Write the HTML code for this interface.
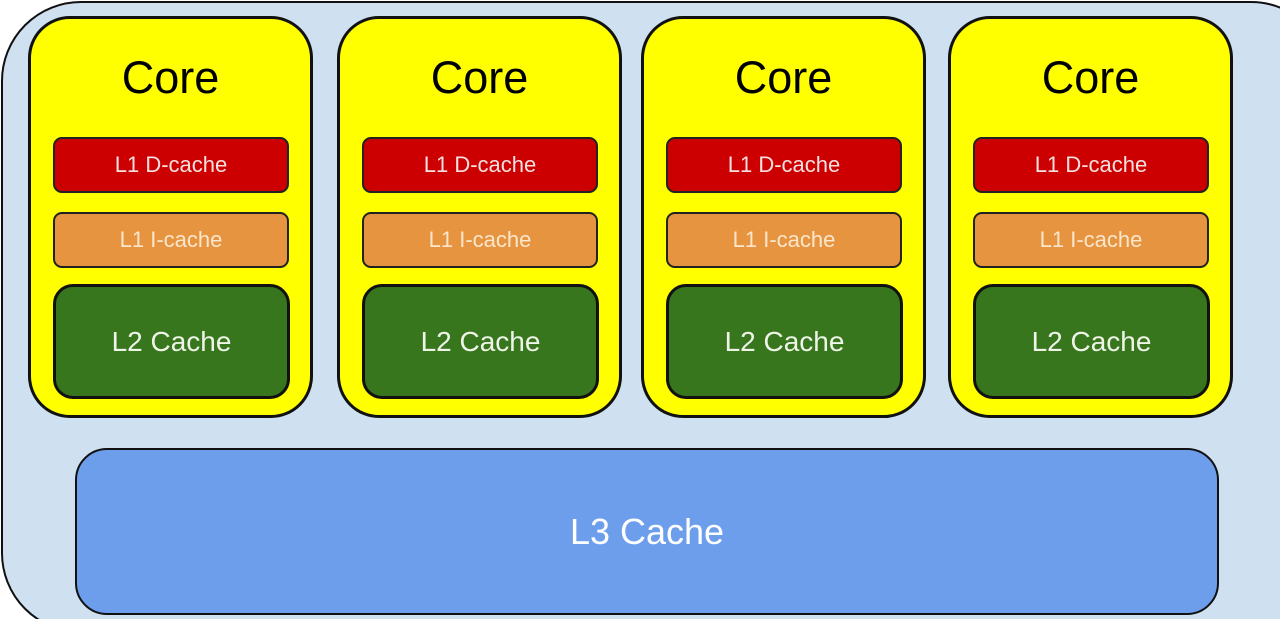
<!DOCTYPE html>
<html><head><style>
html,body{margin:0;width:1280px;height:619px;overflow:hidden}
body{background:#fff;font-family:"Liberation Sans",sans-serif;position:relative}
.a{position:absolute;box-sizing:border-box;display:flex;align-items:center;justify-content:center}
.outer{left:1px;top:1px;width:1330px;height:632px;background:#cfe0f1;border:2px solid #111;border-radius:80px}
.core{width:285px;top:16px;height:402px;background:#ffff00;border:3px solid #111;border-radius:42px}
.t{font-size:45px;color:#000;top:50px;height:56px;width:285px}
.d{background:#cc0000;border:2px solid #222;border-radius:9px;color:#f5e0e0;font-size:22px;height:56px;top:137px;width:236px}
.i{background:#e69440;border:2px solid #222;border-radius:9px;color:#fbe6cc;font-size:22px;height:56px;top:212px;width:236px}
.l2{background:#38761d;border:3px solid #111;border-radius:20px;color:#eef5e8;font-size:28px;height:115px;top:284px;width:237px}
.l3{left:75px;top:448px;width:1144px;height:167px;background:#6d9eeb;border:2px solid #111;border-radius:32px;color:#fff;font-size:36px}
</style></head><body>
<div class="a outer"></div>
<div class="a core" style="left:28px"></div><div class="a t" style="left:28px">Core</div>
<div class="a d" style="left:53px">L1 D-cache</div><div class="a i" style="left:53px">L1 I-cache</div><div class="a l2" style="left:53px">L2 Cache</div>
<div class="a core" style="left:337px"></div><div class="a t" style="left:337px">Core</div>
<div class="a d" style="left:362px">L1 D-cache</div><div class="a i" style="left:362px">L1 I-cache</div><div class="a l2" style="left:362px">L2 Cache</div>
<div class="a core" style="left:641px"></div><div class="a t" style="left:641px">Core</div>
<div class="a d" style="left:666px">L1 D-cache</div><div class="a i" style="left:666px">L1 I-cache</div><div class="a l2" style="left:666px">L2 Cache</div>
<div class="a core" style="left:948px"></div><div class="a t" style="left:948px">Core</div>
<div class="a d" style="left:973px">L1 D-cache</div><div class="a i" style="left:973px">L1 I-cache</div><div class="a l2" style="left:973px">L2 Cache</div>
<div class="a l3">L3 Cache</div>
</body></html>
